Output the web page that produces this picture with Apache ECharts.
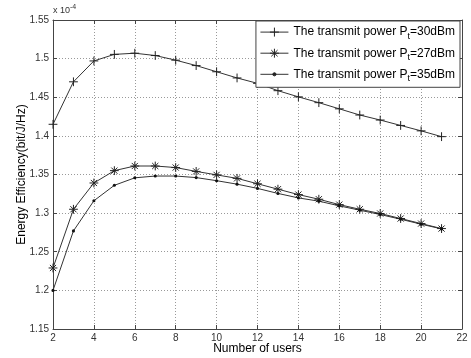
<!DOCTYPE html>
<html>
<head>
<meta charset="utf-8">
<script src="https://cdn.jsdelivr.net/npm/echarts@6/dist/echarts.min.js"></script>
<style>
  html, body { margin: 0; padding: 0; background: #fff; }
  #chart { width: 471px; height: 358px; }
</style>
</head>
<body>
<div id="chart"></div>
<script>
// values are in units of 1e-4 bit/J/Hz
const users = [2, 3, 4, 5, 6, 7, 8, 9, 10, 11, 12, 13, 14, 15, 16, 17, 18, 19, 20, 21];
const ee30 = [1.415, 1.470, 1.497, 1.5055, 1.507, 1.504, 1.498, 1.491, 1.483, 1.475,
  1.468, 1.4585, 1.4505, 1.443, 1.435, 1.427, 1.4205, 1.4135, 1.4065, 1.399];
const ee27 = [1.229, 1.305, 1.339, 1.355, 1.361, 1.361, 1.359, 1.354, 1.3495, 1.345,
  1.338, 1.331, 1.324, 1.318, 1.311, 1.305, 1.2995, 1.293, 1.2865, 1.280];
const ee35 = [1.200, 1.277, 1.316, 1.336, 1.3457, 1.348, 1.348, 1.346, 1.342, 1.3375,
  1.332, 1.3255, 1.3197, 1.3155, 1.3094, 1.3038, 1.2982, 1.2921, 1.2857, 1.2796];
const powers = ["30dBm", "27dBm", "35dBm"];

const font = "Liberation Sans";
const axisColor = "#444";

function pairs(ys) {
  return users.map((u, i) => [u, ys[i]]);
}

// the leading M0,0M10,10 keeps a fixed 10x10 box so the mark stays small in the legend too
const plus = "path://M0,0M10,10M5,1L5,9M1,5L9,5";
const star = "path://M0,0M10,10M5,1L5,9M1,5L9,5M2.2,2.2L7.8,7.8M2.2,7.8L7.8,2.2";
const dot = "path://M0,0M10,10M6.4,5A1.4,1.4,0,1,1,3.6,5A1.4,1.4,0,1,1,6.4,5Z";

function frameAxis(base, pos) {
  return Object.assign({
    position: pos,
    axisLine: { show: true, onZero: false, lineStyle: { color: axisColor } },
    axisTick: { show: true, inside: true, length: 4, lineStyle: { color: axisColor } },
    axisLabel: { show: false },
    splitLine: { show: false },
  }, base);
}

let mychart = echarts.init(document.getElementById("chart"));
mychart.setOption({
  animation: false,
  grid: { left: 53, right: 9, top: 20, bottom: 29, outerBoundsMode: "none" },
  xAxis: [
    {
      type: "value",
      min: 2,
      max: 22,
      interval: 2,
      position: "bottom",
      name: "Number of users",
      nameLocation: "middle",
      nameGap: 14,
      nameMoveOverlap: false,
      nameTextStyle: { fontSize: 12, color: "#000", fontFamily: font },
      axisLine: { show: true, onZero: false, lineStyle: { color: axisColor } },
      axisTick: { show: true, inside: true, length: 4, lineStyle: { color: axisColor } },
      axisLabel: { fontSize: 10, color: "#333", margin: 4, fontFamily: font },
      splitLine: { show: true, lineStyle: { type: [1, 2], color: "#999" } },
    },
    frameAxis({ type: "value", min: 2, max: 22, interval: 2 }, "top"),
  ],
  yAxis: [
    {
      type: "value",
      min: 1.15,
      max: 1.55,
      interval: 0.05,
      position: "left",
      name: "Energy Efficiency(bit/J/Hz)",
      nameLocation: "middle",
      nameGap: 25,
      nameMoveOverlap: false,
      nameTextStyle: { fontSize: 12, color: "#000", fontFamily: font },
      axisLine: { show: true, onZero: false, lineStyle: { color: axisColor } },
      axisTick: { show: true, inside: true, length: 4, lineStyle: { color: axisColor } },
      axisLabel: { fontSize: 10, color: "#333", margin: 4, fontFamily: font },
      splitLine: { show: true, lineStyle: { type: [1, 2], color: "#999" } },
    },
    frameAxis({ type: "value", min: 1.15, max: 1.55, interval: 0.05 }, "right"),
  ],
  legend: {
    orient: "vertical",
    right: 11,
    top: 21,
    itemWidth: 28,
    itemHeight: 14,
    itemGap: 6,
    padding: [5, 5, 4, 4],
    borderColor: axisColor,
    borderWidth: 1,
    backgroundColor: "#fff",
    lineStyle: { width: 1, color: "#333" },
    itemStyle: { borderWidth: 1, borderColor: "#222", color: "#222" },
    formatter: (name) => "{a|The transmit power P}{b|t}{a|=" + name + "}",
    textStyle: {
      fontFamily: font,
      fontSize: 12,
      color: "#000",
      rich: {
        a: { fontSize: 12, fontFamily: font, color: "#000" },
        b: { fontSize: 9, fontFamily: font, color: "#000", padding: [9, 0, 0, 0] },
      },
    },
  },
  graphic: [
    {
      type: "text",
      left: 53,
      top: 4,
      style: {
        text: "{a|x 10}{b|-4}",
        rich: {
          a: { fontSize: 9, fontFamily: font, fill: "#333" },
          b: { fontSize: 7, fontFamily: font, fill: "#333", padding: [0, 0, 7, 0] },
        },
      },
    },
  ],
  series: [
    {
      name: powers[0],
      type: "line",
      data: pairs(ee30),
      symbol: plus,
      symbolSize: 11,
      lineStyle: { color: "#333", width: 1 },
      itemStyle: { color: "#222", borderColor: "#222", borderWidth: 1 },
    },
    {
      name: powers[1],
      type: "line",
      data: pairs(ee27),
      symbol: star,
      symbolSize: 11,
      lineStyle: { color: "#333", width: 1 },
      itemStyle: { color: "#222", borderColor: "#222", borderWidth: 1 },
    },
    {
      name: powers[2],
      type: "line",
      data: pairs(ee35),
      symbol: dot,
      symbolSize: 11,
      lineStyle: { color: "#333", width: 1 },
      itemStyle: { color: "#111", borderColor: "#111", borderWidth: 0 },
    },
  ],
});
</script>
</body>
</html>
